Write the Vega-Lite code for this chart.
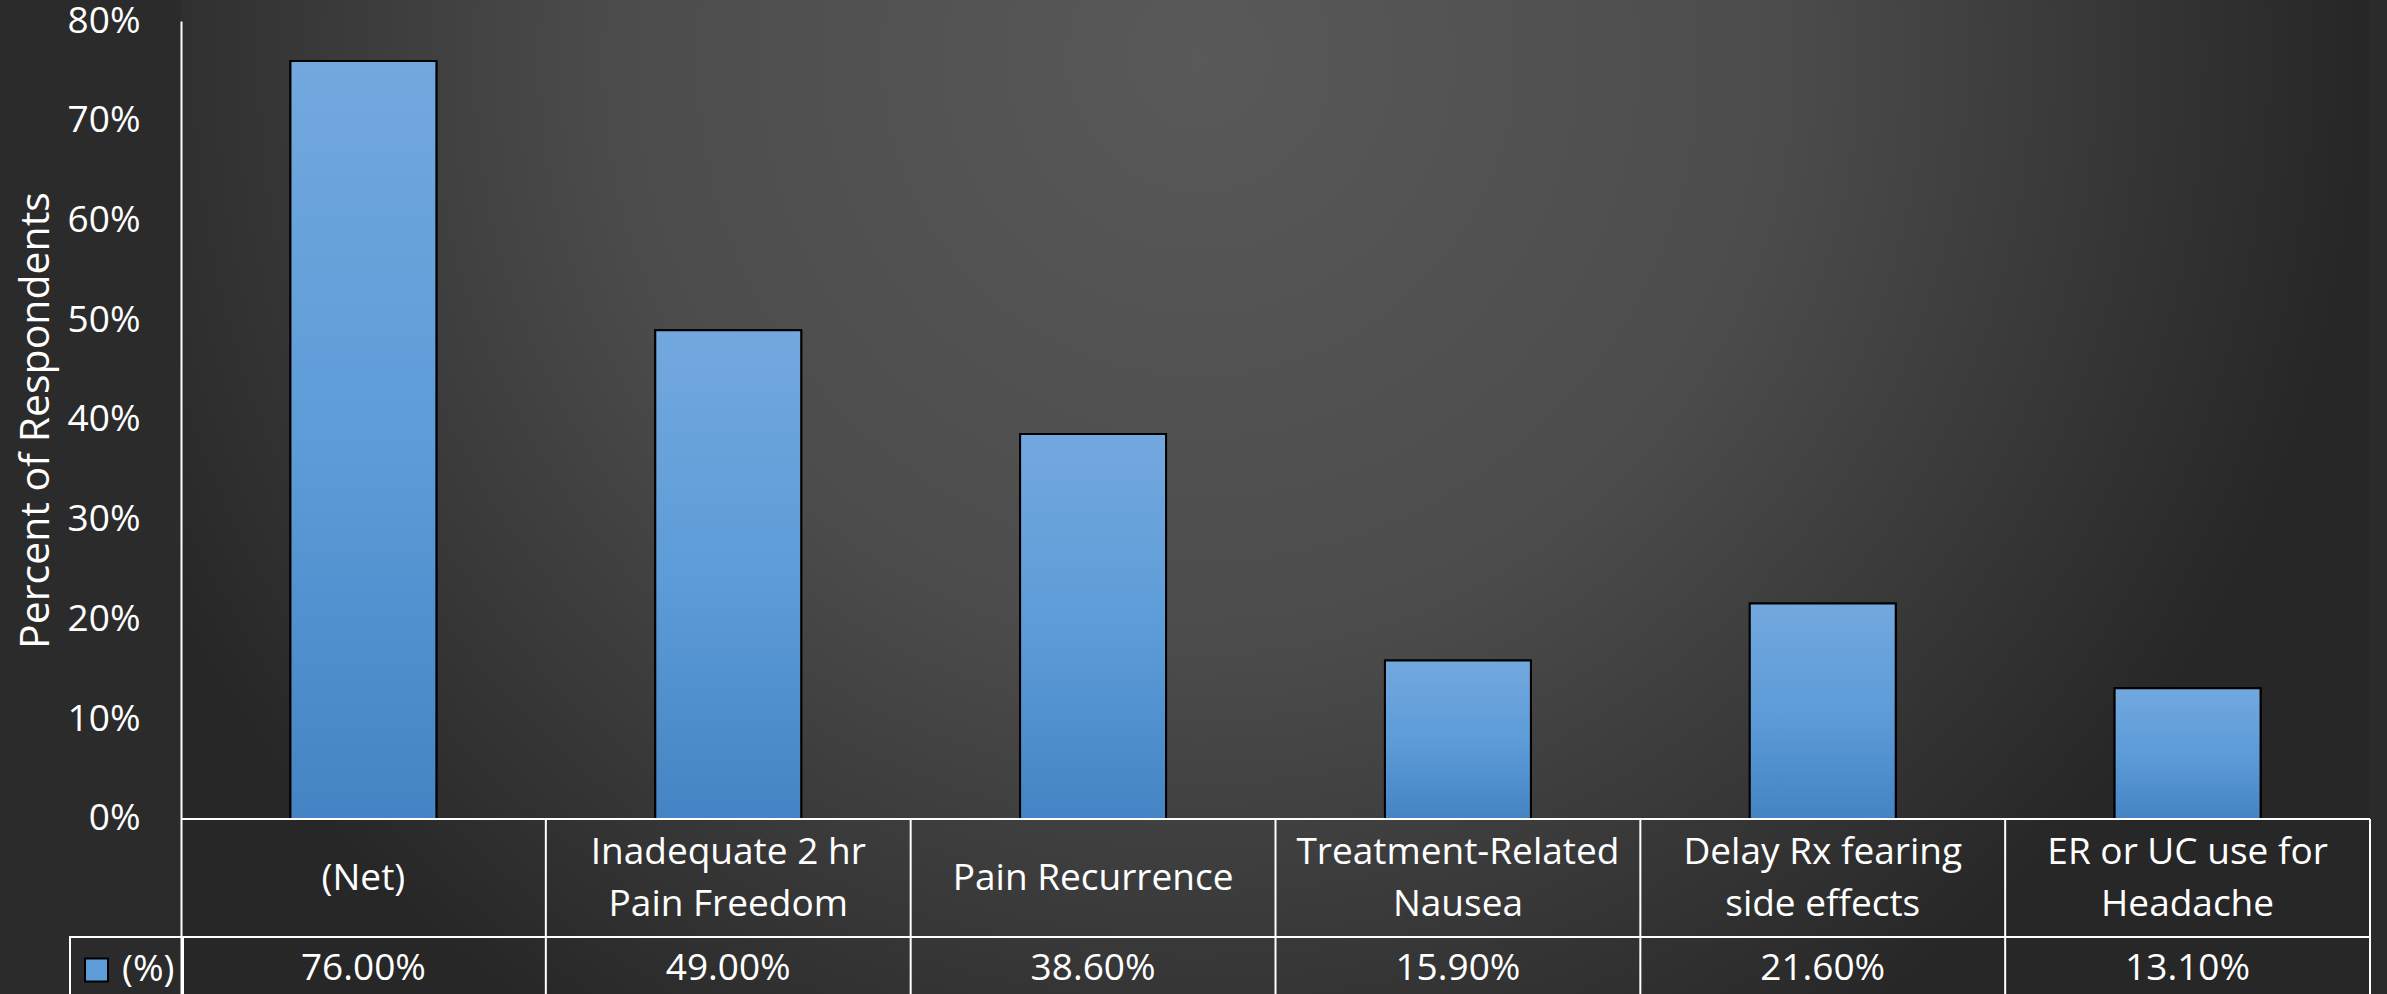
{
  "$schema": "https://vega.github.io/schema/vega-lite/v6.json",
  "autosize": {"type": "none"},
  "padding": {"left": 181, "top": 0, "right": 17, "bottom": 0},
  "width": 2189,
  "height": 994,
  "background": "#2b2b2b",
  "config": {
    "font": "Open Sans",
    "view": {
      "stroke": null,
      "fill": {
        "gradient": "radial",
        "x1": 0.465, "y1": 0.3, "r1": 0,
        "x2": 0.465, "y2": 0.3, "r2": 0.53,
        "stops": [
          {"offset": 0, "color": "#595959"},
          {"offset": 0.5, "color": "#4c4c4c"},
          {"offset": 1, "color": "#272727"}
        ]
      }
    },
    "legend": {"strokeWidth": 2}
  },
  "data": {
    "values": [
      {"category": "(Net)", "value": 0.76},
      {"category": "Inadequate 2 hr Pain Freedom", "value": 0.49},
      {"category": "Pain Recurrence", "value": 0.386},
      {"category": "Treatment-Related Nausea", "value": 0.159},
      {"category": "Delay Rx fearing side effects", "value": 0.216},
      {"category": "ER or UC use for Headache", "value": 0.131}
    ]
  },
  "layer": [
    {
      "mark": {"type": "bar", "width": {"band": 0.4}, "stroke": "black", "strokeWidth": 2},
      "encoding": {
        "x": {
          "field": "category", "type": "nominal", "sort": null,
          "scale": {"paddingInner": 0, "paddingOuter": 0},
          "axis": {
            "orient": "bottom", "offset": -175, "title": null,
            "domain": false, "ticks": false, "labelAngle": 0,
            "labelColor": "white", "labelFontSize": 37,
            "labelPadding": {"condition": {"test": "datum.value == '(Net)' || datum.value == 'Pain Recurrence'", "value": 59}, "value": 33},
            "labelBaseline": "middle", "labelLineHeight": 52, "labelLimit": 400,
            "labelExpr": "datum.label == 'Inadequate 2 hr Pain Freedom' ? ['Inadequate 2 hr', 'Pain Freedom'] : datum.label == 'Treatment-Related Nausea' ? ['Treatment-Related', 'Nausea'] : datum.label == 'Delay Rx fearing side effects' ? ['Delay Rx fearing', 'side effects'] : datum.label == 'ER or UC use for Headache' ? ['ER or UC use for', 'Headache'] : datum.label"
          }
        },
        "y": {
          "field": "value", "type": "quantitative",
          "scale": {"domain": [-0.17544, 0.8], "range": [994, 21], "nice": false, "zero": false},
          "axis": {
            "values": [0, 0.1, 0.2, 0.3, 0.4, 0.5, 0.6, 0.7, 0.8],
            "format": ".0%", "labelColor": "white", "labelFontSize": 37,
            "labelPadding": 41, "ticks": false, "grid": false,
            "domainColor": "white", "domainWidth": 2,
            "title": "Percent of Respondents", "titleColor": "white",
            "titleFontSize": 41, "titleFontWeight": "normal",
            "titleX": -145, "titleY": 420, "titleBaseline": "middle"
          }
        },
        "y2": {"datum": 0},
        "color": {
          "datum": "(%)",
          "scale": {"range": ["#5d9cd8"]},
          "legend": {
            "orient": "none", "legendX": -111, "legendY": 937, "title": null,
            "labelColor": "white", "labelFontSize": 37, "symbolType": "square",
            "symbolSize": 529, "symbolStrokeColor": "black", "symbolStrokeWidth": 2,
            "labelOffset": 7, "padding": 8, "strokeColor": "white", "clipHeight": 50
          }
        }
      }
    },
    {
      "mark": {
        "type": "bar", "width": {"band": 0.4}, "stroke": "black", "strokeWidth": 2,
        "fill": {
          "gradient": "linear", "x1": 0, "y1": 0, "x2": 0, "y2": 1,
          "stops": [
            {"offset": 0, "color": "#72a8de"},
            {"offset": 0.5, "color": "#5d9cd8"},
            {"offset": 1, "color": "#4484c4"}
          ]
        }
      },
      "encoding": {
        "x": {"field": "category", "type": "nominal", "sort": null},
        "y": {"field": "value", "type": "quantitative"},
        "y2": {"datum": 0}
      }
    },
    {
      "mark": {"type": "rule", "color": "white", "strokeWidth": 2},
      "encoding": {"y": {"datum": 0}}
    },
    {
      "mark": {"type": "rule", "color": "white", "strokeWidth": 2},
      "encoding": {"y": {"datum": -0.1183}}
    },
    {
      "mark": {"type": "rule", "color": "white", "strokeWidth": 2},
      "encoding": {
        "x": {"field": "category", "type": "nominal", "sort": null, "bandPosition": 1},
        "y": {"datum": 0},
        "y2": {"datum": -0.17544}
      }
    },
    {
      "mark": {"type": "text", "color": "white", "fontSize": 37, "baseline": "middle"},
      "encoding": {
        "x": {"field": "category", "type": "nominal", "sort": null},
        "y": {"datum": -0.15},
        "text": {"field": "value", "type": "quantitative", "format": ".2%"}
      }
    }
  ]
}
